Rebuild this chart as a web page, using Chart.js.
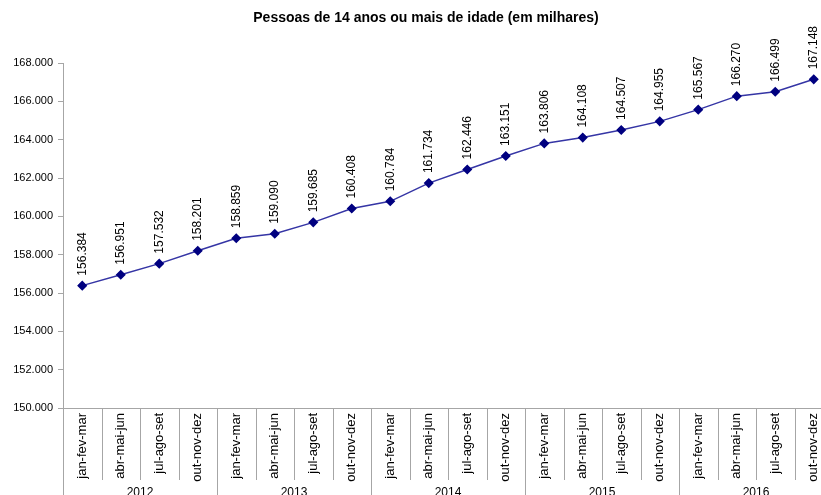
<!DOCTYPE html>
<html>
<head>
<meta charset="utf-8">
<script src="https://cdn.jsdelivr.net/npm/chart.js@4/dist/chart.umd.min.js"></script>
<style>
html,body{margin:0;padding:0;overflow:hidden;background:#fff;}
#wrap{width:840px;height:495px;}
</style>
</head>
<body>
<div id="wrap"><canvas id="c" width="840" height="495"></canvas></div>
<script>
const titleText = 'Pessoas de 14 anos ou mais de idade (em milhares)';
const years = ['2012', '2013', '2014', '2015', '2016'];
const quarters = ['jan-fev-mar', 'abr-mai-jun', 'jul-ago-set', 'out-nov-dez'];
const values2012 = [156384, 156951, 157532, 158201];
const values2013 = [158859, 159090, 159685, 160408];
const values2014 = [160784, 161734, 162446, 163151];
const values2015 = [163806, 164108, 164507, 164955];
const values2016 = [165567, 166270, 166499, 167148];
const yMin = 150000, yMax = 168000, yStep = 2000;

const categories = [];
years.forEach(() => quarters.forEach(q => categories.push(q)));
const values = [].concat(values2012, values2013, values2014, values2015, values2016);

function fmt(v) {
  const s = String(Math.round(v));
  return s.replace(/\B(?=(\d{3})+(?!\d))/g, '.');
}

const FONT = '"Liberation Sans", Arial, sans-serif';

const overlay = {
  id: 'overlay',
  afterDraw(chart) {
    const ctx = chart.ctx;
    const xs = chart.scales.x, ys = chart.scales.y;
    const n = categories.length;
    ctx.save();
    // title
    ctx.fillStyle = '#000';
    ctx.font = 'bold 14px ' + FONT;
    ctx.textAlign = 'center';
    ctx.textBaseline = 'middle';
    ctx.fillText(titleText, 426, 18);
    // separators
    ctx.strokeStyle = '#a6a6a6';
    ctx.lineWidth = 1;
    for (let i = 0; i <= n; i++) {
      let px;
      if (i === 0) px = xs.left;
      else if (i === n) px = xs.right;
      else px = (xs.getPixelForValue(i - 1) + xs.getPixelForValue(i)) / 2;
      px = Math.round(px) + 0.5;
      const bottom = (i % quarters.length === 0) ? chart.height : ys.bottom + 72;
      ctx.beginPath();
      ctx.moveTo(px, ys.bottom);
      ctx.lineTo(px, bottom);
      ctx.stroke();
    }
    // year labels
    ctx.fillStyle = '#000';
    ctx.font = '12px ' + FONT;
    ctx.textAlign = 'center';
    ctx.textBaseline = 'top';
    years.forEach((yr, k) => {
      const a = xs.getPixelForValue(k * 4), b = xs.getPixelForValue(k * 4 + 3);
      ctx.fillText(yr, (a + b) / 2, ys.bottom + 79);
    });
    // data labels
    const meta = chart.getDatasetMeta(0);
    ctx.font = '12px ' + FONT;
    ctx.textAlign = 'left';
    ctx.textBaseline = 'middle';
    meta.data.forEach((pt, i) => {
      ctx.save();
      ctx.translate(pt.x, pt.y - 10);
      ctx.rotate(-Math.PI / 2);
      ctx.fillText(fmt(values[i]), 0, 0);
      ctx.restore();
    });
    ctx.restore();
  }
};

new Chart(document.getElementById('c'), {
  type: 'line',
  data: {
    labels: categories,
    datasets: [{
      data: values,
      borderColor: '#3535a5',
      borderWidth: 1.5,
      pointStyle: 'rectRot',
      pointRadius: 4,
      pointBackgroundColor: '#000080',
      pointBorderColor: '#000080',
      tension: 0,
      fill: false
    }]
  },
  options: {
    responsive: false,
    animation: false,
    layout: { padding: { top: 63, left: 0, right: 7, bottom: 0 } },
    plugins: { legend: { display: false }, title: { display: false }, tooltip: { enabled: false } },
    scales: {
      x: {
        type: 'category',
        offset: true,
        grid: { display: false, drawTicks: false },
        border: { display: true, color: '#a6a6a6' },
        ticks: {
          minRotation: 90, maxRotation: 90, autoSkip: false, padding: 5,
          color: '#000', font: { size: 13, family: FONT }
        },
        afterFit(s) { s.height = 87; }
      },
      y: {
        min: yMin, max: yMax,
        grid: { drawOnChartArea: false, drawTicks: true, tickLength: 5, color: '#a6a6a6' },
        border: { display: true, color: '#a6a6a6' },
        ticks: {
          stepSize: yStep, padding: 5, color: '#000',
          font: { size: 11, family: FONT },
          callback: v => fmt(v)
        },
        afterFit(s) { s.width = 63; }
      }
    }
  },
  plugins: [overlay]
});
</script>
</body>
</html>
